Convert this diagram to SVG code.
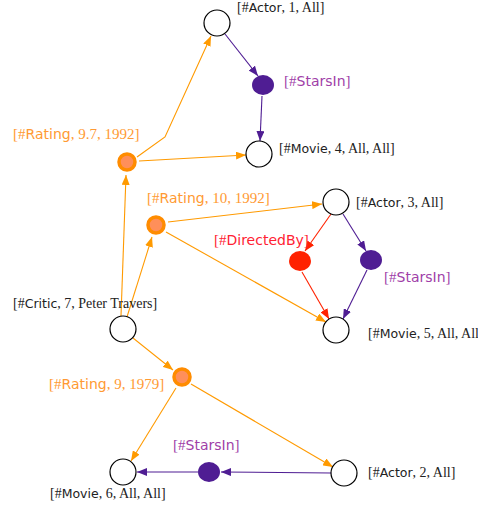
<svg xmlns="http://www.w3.org/2000/svg" width="478" height="515" viewBox="0 0 478 515">
  <defs>
    <marker id="ao" viewBox="0 0 10 8" refX="10" refY="4" markerWidth="10" markerHeight="8" markerUnits="userSpaceOnUse" orient="auto">
      <path d="M0,0 L10,4 L0,8 z" fill="#ff9a00"/>
    </marker>
    <marker id="ap" viewBox="0 0 10 8" refX="10" refY="4" markerWidth="10" markerHeight="8" markerUnits="userSpaceOnUse" orient="auto">
      <path d="M0,0 L10,4 L0,8 z" fill="#4f1d93"/>
    </marker>
    <marker id="ar" viewBox="0 0 10 8" refX="10" refY="4" markerWidth="10" markerHeight="8" markerUnits="userSpaceOnUse" orient="auto">
      <path d="M0,0 L10,4 L0,8 z" fill="#ff2200"/>
    </marker>
  </defs>
  <style>
    .ent { fill: #ffffff; stroke: #000000; stroke-width: 1.2; }
    .rat { fill: #ff8f5a; stroke: #ff8c00; stroke-width: 3.5; }
    .star { fill: #4f1d93; }
    .dir { fill: #ff2200; }
    .eo { fill: none; stroke: #ff9a00; stroke-width: 1.1; marker-end: url(#ao); }
    .ep { fill: none; stroke: #4f1d93; stroke-width: 1.1; marker-end: url(#ap); }
    .er { fill: none; stroke: #ff2200; stroke-width: 1.1; marker-end: url(#ar); }
    text { font-family: "Liberation Serif", "DejaVu Serif", serif; font-size: 14px; fill: #222222; }
    .s { font-family: "DejaVu Sans", "Liberation Sans", sans-serif; font-size: 12.5px; }
    .lo { fill: #ff9a33; font-size: 15px; }
    .lo .s { font-size: 14px; }
    .lp { fill: #a040a8; font-size: 15px; }
    .lp .s { font-size: 14px; }
    .lr { fill: #ff2233; font-size: 15px; }
    .lr .s { font-size: 14px; }
  </style>

  <g id="connectors">
    <line class="eo" x1="121" y1="316" x2="126" y2="175"/>
    <line class="eo" x1="127" y1="317" x2="152" y2="237"/>
    <line class="eo" x1="133" y1="338" x2="173" y2="370"/>
    <polyline class="eo" points="137,157 165,137 211,36"/>
    <line class="eo" x1="139" y1="161" x2="246" y2="155"/>
    <line class="ep" x1="225" y1="34" x2="258" y2="76"/>
    <line class="ep" x1="262" y1="96" x2="260" y2="141"/>
    <line class="eo" x1="168" y1="222" x2="322" y2="204"/>
    <line class="eo" x1="166" y1="232" x2="326" y2="322"/>
    <line class="er" x1="331" y1="214" x2="305" y2="251"/>
    <line class="ep" x1="343" y1="214" x2="366" y2="251"/>
    <line class="er" x1="302" y1="272" x2="329" y2="319"/>
    <line class="ep" x1="367" y1="270" x2="343" y2="319"/>
    <line class="eo" x1="176" y1="388" x2="131" y2="461"/>
    <line class="eo" x1="191" y1="384" x2="333" y2="467"/>
    <line class="ep" x1="331" y1="473" x2="221" y2="472"/>
    <line class="ep" x1="198" y1="472" x2="137" y2="472"/>
  </g>

  <g id="actor1">
    <circle class="ent" cx="217" cy="23" r="13"/>
    <text x="237" y="12">[#<tspan class="s">Actor</tspan>, 1, All]</text>
  </g>
  <g id="starsin1">
    <ellipse class="star" cx="263" cy="85" rx="11" ry="10"/>
    <text class="lp" x="284" y="86">[#<tspan class="s">StarsIn</tspan>]</text>
  </g>
  <g id="movie4">
    <circle class="ent" cx="259" cy="154" r="13"/>
    <text x="279" y="153">[#<tspan class="s">Movie</tspan>, 4, All, All]</text>
  </g>
  <g id="rating97">
    <circle class="rat" cx="127" cy="162" r="8"/>
    <text class="lo" x="13" y="139">[#<tspan class="s">Rating</tspan>, 9.7, 1992]</text>
  </g>
  <g id="rating10">
    <circle class="rat" cx="156" cy="225" r="8"/>
    <text class="lo" x="147" y="203">[#<tspan class="s">Rating</tspan>, 10, 1992]</text>
  </g>
  <g id="actor3">
    <circle class="ent" cx="336" cy="202" r="13"/>
    <text x="356" y="207">[#<tspan class="s">Actor</tspan>, 3, All]</text>
  </g>
  <g id="directedby">
    <ellipse class="dir" cx="300" cy="261" rx="11" ry="10"/>
    <text class="lr" x="214" y="245">[#<tspan class="s">DirectedBy</tspan>]</text>
  </g>
  <g id="starsin2">
    <ellipse class="star" cx="371" cy="260" rx="11" ry="10"/>
    <text class="lp" x="384" y="282">[#<tspan class="s">StarsIn</tspan>]</text>
  </g>
  <g id="critic7">
    <circle class="ent" cx="123" cy="329" r="13"/>
    <text x="13" y="308">[#<tspan class="s">Critic</tspan>, 7, Peter Travers]</text>
  </g>
  <g id="movie5">
    <circle class="ent" cx="336" cy="330" r="13"/>
    <text x="368" y="338">[#<tspan class="s">Movie</tspan>, 5, All, All]</text>
  </g>
  <g id="rating9">
    <circle class="rat" cx="182" cy="377" r="8"/>
    <text class="lo" x="49" y="389">[#<tspan class="s">Rating</tspan>, 9, 1979]</text>
  </g>
  <g id="starsin3">
    <ellipse class="star" cx="209" cy="472" rx="11" ry="10"/>
    <text class="lp" x="173" y="450">[#<tspan class="s">StarsIn</tspan>]</text>
  </g>
  <g id="movie6">
    <circle class="ent" cx="123" cy="472" r="13"/>
    <text x="50" y="498">[#<tspan class="s">Movie</tspan>, 6, All, All]</text>
  </g>
  <g id="actor2">
    <circle class="ent" cx="344" cy="473" r="13"/>
    <text x="368" y="477">[#<tspan class="s">Actor</tspan>, 2, All]</text>
  </g>
</svg>
